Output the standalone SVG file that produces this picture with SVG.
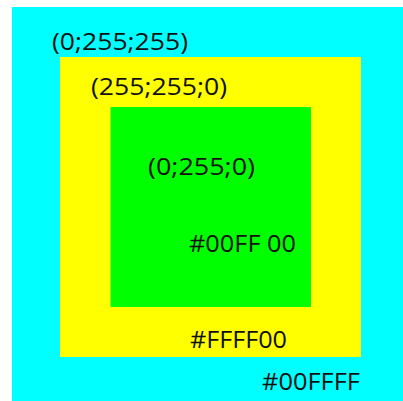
<svg xmlns="http://www.w3.org/2000/svg" width="403" height="401" viewBox="0 0 403 401">
<style>
text{font-family:"Open Sans","Liberation Sans",sans-serif;font-size:23px;fill:#111;}
</style>
<rect width="403" height="401" fill="#fff"/>
<g id="cyan"><rect x="12" y="7" width="391" height="394" fill="#00FFFF"/>
<text x="52" y="50" textLength="136" lengthAdjust="spacingAndGlyphs">(0;255;255)</text>
<text x="262" y="390" textLength="98" lengthAdjust="spacingAndGlyphs">#00FFFF</text></g>
<g id="yellow"><rect x="60" y="57" width="301" height="300" fill="#FFFF00"/>
<text x="91" y="95" textLength="136" lengthAdjust="spacingAndGlyphs">(255;255;0)</text>
<text x="190" y="348" textLength="97" lengthAdjust="spacingAndGlyphs">#FFFF00</text></g>
<g id="green"><rect x="110.5" y="107" width="200.5" height="200" fill="#00FF00"/>
<text x="148" y="175" textLength="107" lengthAdjust="spacingAndGlyphs">(0;255;0)</text>
<text x="189" y="252" textLength="107" lengthAdjust="spacingAndGlyphs">#00FF 00</text></g>
<g id="connectors"/>
</svg>
